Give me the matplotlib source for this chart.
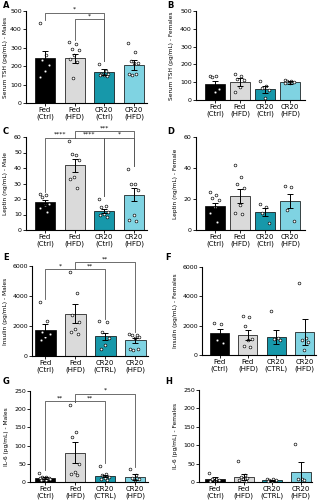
import numpy as np
import matplotlib
matplotlib.use('Agg')
import matplotlib.pyplot as plt

# ---------------- data ----------------
groups_a = ['Fed\n(Ctrl)', 'Fed\n(HFD)', 'CR20\n(Ctrl)', 'CR20\n(HFD)']
groups_b = ['Fed\n(Ctrl)', 'Fed\n(HFD)', 'CR20\n(CTRL)', 'CR20\n(HFD)']

tsh_m_mean = [243, 244, 169, 209]
tsh_m_sem = [42, 25, 18, 27]
tsh_m_pts = [[436, 262, 235, 205, 175, 140],
             [330, 320, 292, 288, 262, 240, 225, 135],
             [212, 172, 160, 155, 152, 150, 148],
             [327, 278, 228, 220, 216, 160, 155, 150]]

tsh_f_mean = [90, 101, 60, 99]
tsh_f_sem = [18, 24, 19, 8]
tsh_f_pts = [[136, 133, 130, 60, 45],
             [146, 137, 116, 112, 71, 47],
             [105, 79, 66, 56, 9],
             [112, 108, 105, 100, 97, 95]]

lep_m_mean = [17.8, 41.8, 12.2, 22.9]
lep_m_sem = [1.5, 4.2, 1.3, 4.0]
lep_m_pts = [[23, 22.5, 21, 17, 16, 14, 11.5],
             [57.4, 48.6, 49.3, 45.4, 34.3, 33.2, 27.2],
             [20, 15.4, 15, 11.4, 10.3, 9.6, 8.6],
             [39.2, 30, 29.6, 25.7, 9.6, 6.4, 6]]

lep_f_mean = [15.5, 22, 11.4, 18.8]
lep_f_sem = [2.2, 4.5, 2.6, 4.7]
lep_f_pts = [[24.8, 22.7, 20.9, 19.4, 15.1, 10.8, 5.4],
             [41.7, 33.9, 29.6, 27, 16.2, 11.2, 10.1],
             [16.6, 15.1, 10.8, 4.3],
             [28.5, 28, 13, 5.8]]

ins_m_mean = [1711, 2822, 1311, 1044]
ins_m_sem = [400, 622, 222, 178]
ins_m_pts = [[3600, 2311, 1600, 1500, 1270, 1044],
             [5600, 4222, 2711, 2267, 1822, 1600, 1444],
             [2311, 2267, 1600, 1222, 711, 444],
             [1444, 1400, 1380, 1267, 1200, 489, 444, 378]]

ins_f_mean = [1534, 1376, 1218, 1556]
ins_f_sem = [248, 338, 496, 903]
ins_f_pts = [[2165, 2120, 1038, 812],
             [2684, 2616, 1985, 1105, 1038, 586, 541],
             [3000, 1150, 1080, 1040],
             [4940, 1150, 1038, 857, 361]]

il6_m_mean = [11, 80.6, 16.5, 13.7]
il6_m_sem = [2.7, 29.4, 3.5, 7.3]
il6_m_pts = [[25.6, 14, 13, 12, 11, 10, 9, 8, 7, 6, 5],
             [212, 137, 125, 50, 27, 23, 18],
             [44, 23, 20, 15, 10, 8, 6],
             [35, 18, 12, 8, 6]]

il6_f_mean = [7, 13.6, 4.5, 27]
il6_f_sem = [6, 8.4, 1.5, 26]
il6_f_pts = [[25, 9, 7, 5, 4, 3],
             [57, 18, 14, 10, 7, 5, 4],
             [9, 7, 6, 5, 4, 3],
             [102, 9, 7, 5]]

colors = ['#000000', '#dadada', '#1798aa', '#7fd3e2']

W, H = 324, 500
fig = plt.figure(figsize=(W/100., H/100.), dpi=100)


def rect(l, r, top, bot):
    return [l/W, (H-bot)/H, (r-l)/W, (bot-top)/H]


def panel(letter, pos, xlim, bw, means, sems, pts, ylim, yticks, labels,
          ylabel, ylab_x, brackets=(), letter_xy=(0, 0)):
    ax = fig.add_axes(rect(*pos))
    x = np.arange(len(means))
    ax.bar(x, means, width=bw, color=colors, edgecolor='black', linewidth=0.5, zorder=2)
    for i in range(len(means)):
        n = len(pts[i])
        off = (((np.arange(n)*0.618) % 1.0) - 0.5) * bw * 0.55
        ax.scatter(x[i]+off, pts[i], s=4, facecolor='white', edgecolor='black',
                   linewidth=0.45, zorder=4, clip_on=False)
        ax.errorbar(x[i], means[i], yerr=sems[i], color='black', capsize=2.5,
                    elinewidth=0.7, capthick=0.7, zorder=5)
    ax.set_xlim(*xlim)
    ax.set_ylim(*ylim)
    ax.set_yticks(yticks)
    ax.set_xticks(x)
    ax.set_xticklabels(labels, fontsize=5, linespacing=1.0)
    ax.tick_params(axis='y', labelsize=4.5, length=2, width=0.6, pad=1)
    ax.tick_params(axis='x', length=2, width=0.6, pad=1)
    for s in ['top', 'right']:
        ax.spines[s].set_visible(False)
    for s in ['left', 'bottom']:
        ax.spines[s].set_linewidth(0.8)
    yspan = ylim[1] - ylim[0]
    for (i, j, yb, lab) in brackets:
        bi = max(pts[i]) + 0.03*yspan
        bj = max(pts[j]) + 0.03*yspan
        ax.plot([x[i], x[i], x[j], x[j]], [bi, yb, yb, bj], color='#555555',
                linewidth=0.6, clip_on=False, zorder=3)
        ax.text((x[i]+x[j])/2., yb + 0.01*yspan, lab, ha='center', va='bottom',
                fontsize=4.5, clip_on=False)
    fig.text(ylab_x/W, 1 - ((pos[2]+pos[3])/2.)/H, ylabel, rotation=90,
             ha='center', va='center', fontsize=4.2)
    fig.text(letter_xy[0]/W, 1 - letter_xy[1]/H, letter, fontsize=6,
             fontweight='bold', ha='left', va='center')
    return ax


panel('A', (26, 147, 11, 103), (-0.64, 3.44), 0.67, tsh_m_mean, tsh_m_sem, tsh_m_pts,
      (0, 500), [0, 100, 200, 300, 400, 500], groups_a,
      'Serum TSH (pg/mL) - Males', 6,
      brackets=[(0, 2, 490, '*'), (1, 2, 455, '*')], letter_xy=(3, 6))

panel('B', (196, 305, 11, 100), (-0.76, 3.6), 0.8, tsh_f_mean, tsh_f_sem, tsh_f_pts,
      (0, 500), [0, 100, 200, 300, 400, 500], groups_a,
      'Serum TSH (pg/mL) - Females', 172, letter_xy=(167, 5))

panel('C', (26, 147, 137, 230), (-0.64, 3.44), 0.67, lep_m_mean, lep_m_sem, lep_m_pts,
      (0, 60), [0, 10, 20, 30, 40, 50, 60], groups_a,
      'Leptin (ng/mL) - Male', 6,
      brackets=[(1, 3, 63.6, '***'), (0, 1, 59.4, '****'), (1, 2, 59.4, '****'),
                (2, 3, 59.4, '*')], letter_xy=(3, 132))

panel('D', (196, 305, 137, 230), (-0.76, 3.6), 0.8, lep_f_mean, lep_f_sem, lep_f_pts,
      (0, 60), [0, 20, 40, 60], groups_a,
      'Leptin (ng/mL) - Female', 175, letter_xy=(167, 132))

panel('E', (32, 148, 266, 356), (-0.45, 3.43), 0.7, ins_m_mean, ins_m_sem, ins_m_pts,
      (0, 6000), [0, 2000, 4000, 6000], groups_b,
      'Insulin (pg/mL) - Males', 6,
      brackets=[(0, 1, 5800, '*'), (1, 2, 5800, '**'), (1, 3, 6270, '**')],
      letter_xy=(3, 257))

panel('F', (202, 316, 267, 355), (-0.62, 3.4), 0.67, ins_f_mean, ins_f_sem, ins_f_pts,
      (0, 6000), [0, 2000, 4000, 6000], groups_b,
      'Insulin (pg/mL) - Females', 175, letter_xy=(165, 257))

panel('G', (30, 148, 391, 482), (-0.5, 3.43), 0.67, il6_m_mean, il6_m_sem, il6_m_pts,
      (0, 250), [0, 50, 100, 150, 200, 250], groups_b,
      'IL-6 (pg/mL) - Males', 7,
      brackets=[(0, 1, 222, '**'), (1, 2, 222, '**'), (1, 3, 242, '*')],
      letter_xy=(3, 381))

panel('H', (199, 312, 390, 482), (-0.56, 3.4), 0.7, il6_f_mean, il6_f_sem, il6_f_pts,
      (0, 250), [0, 50, 100, 150, 200, 250], groups_b,
      'IL-6 (pg/mL) - Females', 175, letter_xy=(165, 382))

plt.savefig('out.png', dpi=100)
plt.close()
